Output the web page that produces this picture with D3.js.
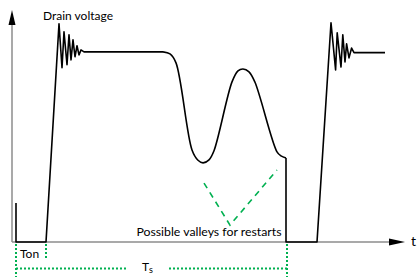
<!DOCTYPE html>
<html>
<head>
<meta charset="utf-8">
<script src="https://cdn.jsdelivr.net/npm/d3@7"></script>
<style>
  body { margin: 0; background: #fff; }
  svg { display: block; font-family: Lato, "Open Sans", sans-serif; }
</style>
</head>
<body>
<div id="chart"></div>
<script>
// time (arbitrary units) / drain voltage (% of plateau)
var pulseOne = [
  [2, 20.5], [2, 0], [17, 0], [23.5, 114.7],
  [25, 91.6], [26, 110.5], [27.5, 93.2], [28.5, 109], [29.5, 95.8],
  [30.5, 106.3], [31.5, 97.4], [32.5, 103.2], [33.5, 98.4], [34.5, 101],
  [36, 100], [75.5, 100]
];
var valleyPart = [
  [75.5, 100], [79, 98.9], [82, 94.2], [90, 48.4], [93, 43], [95.5, 41.6],
  [98.5, 43.2], [101, 48], [110, 84.2], [113, 90], [115.5, 91], [118.5, 89.5],
  [121.5, 84], [132.5, 47.4], [134.5, 45.3], [137, 44.2]
];
var pulseTwo = [
  [137, 44.2], [137, 0], [152.5, 0], [159.5, 115.3],
  [161.8, 90.5], [162.6, 110], [164.5, 92], [165.4, 109], [166.5, 94.7],
  [167.3, 104.2], [168.5, 96.8], [169.8, 102], [171, 99.6], [186.5, 99.6]
];
var valleyMarks = [[96, 31], [109, 8.9], [132.5, 37.9]];
var tOnStart = 2, tOnEnd = 17, tSEnd = 137.5;
var labels = { drain: "Drain voltage", valleys: "Possible valleys for restarts", ton: "Ton", axis: "t" };

var width = 419, height = 277;
var svg = d3.select("#chart").append("svg")
    .attr("width", width)
    .attr("height", height);

var x = d3.scaleLinear().domain([0, 191.5]).range([12, 395]);
var y = d3.scaleLinear().domain([0, 122]).range([242, 10]);

var green = "#00b050";

// axes
svg.append("line")
    .attr("x1", x(0)).attr("y1", y(0))
    .attr("x2", x(0)).attr("y2", y(0) - 218)
    .attr("stroke", "#8c8c8c").attr("stroke-width", 1.5);
svg.append("path")
    .attr("d", "M" + x(0) + ",10L" + (x(0) + 3.5) + ",25L" + (x(0) - 3.5) + ",25Z")
    .attr("fill", "#000");
svg.append("line")
    .attr("x1", x(0)).attr("y1", y(0))
    .attr("x2", 392).attr("y2", y(0))
    .attr("stroke", "#8c8c8c").attr("stroke-width", 1.5);
svg.append("path")
    .attr("d", "M405," + y(0) + "L389," + (y(0) - 3.5) + "L389," + (y(0) + 3.5) + "Z")
    .attr("fill", "#000");
svg.append("text")
    .attr("x", 411).attr("y", 246)
    .attr("font-size", 14)
    .text(labels.axis);

// waveform
var sharp = d3.line()
    .x(function (d) { return x(d[0]); })
    .y(function (d) { return y(d[1]); });
var smooth = d3.line()
    .x(function (d) { return x(d[0]); })
    .y(function (d) { return y(d[1]); })
    .curve(d3.curveCatmullRom.alpha(0.5));

[[pulseOne, sharp], [valleyPart, smooth], [pulseTwo, sharp]].forEach(function (p) {
    svg.append("path")
        .datum(p[0])
        .attr("d", p[1])
        .attr("fill", "none")
        .attr("stroke", "#000")
        .attr("stroke-width", 1.6)
        .attr("stroke-linejoin", "round");
});

// green markers
function dotted(x1, y1, x2, y2) {
    svg.append("line")
        .attr("x1", x1).attr("y1", y1).attr("x2", x2).attr("y2", y2)
        .attr("stroke", green).attr("stroke-width", 2)
        .attr("stroke-dasharray", "2,2");
}
dotted(x(tOnStart), y(0) + 2, x(tOnStart), height);
dotted(x(tOnEnd), y(0) + 2, x(tOnEnd), 260);
dotted(x(tSEnd), y(0) + 2, x(tSEnd), height);
dotted(x(tOnStart), 268.5, 127, 268.5);
dotted(169, 268.5, x(tSEnd), 268.5);

svg.append("path")
    .datum(valleyMarks)
    .attr("d", sharp)
    .attr("fill", "none")
    .attr("stroke", green)
    .attr("stroke-width", 1.6)
    .attr("stroke-dasharray", "6,5");

// labels
svg.append("text")
    .attr("x", 43).attr("y", 20)
    .attr("font-size", 12)
    .text(labels.drain);
svg.append("text")
    .attr("x", 209).attr("y", 236)
    .attr("text-anchor", "middle")
    .attr("font-size", 12.3)
    .text(labels.valleys);
svg.append("text")
    .attr("x", 20).attr("y", 258)
    .attr("font-size", 12)
    .text(labels.ton);
var ts = svg.append("text")
    .attr("x", 142).attr("y", 271)
    .attr("font-size", 12)
    .text("T");
ts.append("tspan")
    .attr("font-size", 9)
    .attr("dy", 2)
    .text("s");
</script>
</body>
</html>
